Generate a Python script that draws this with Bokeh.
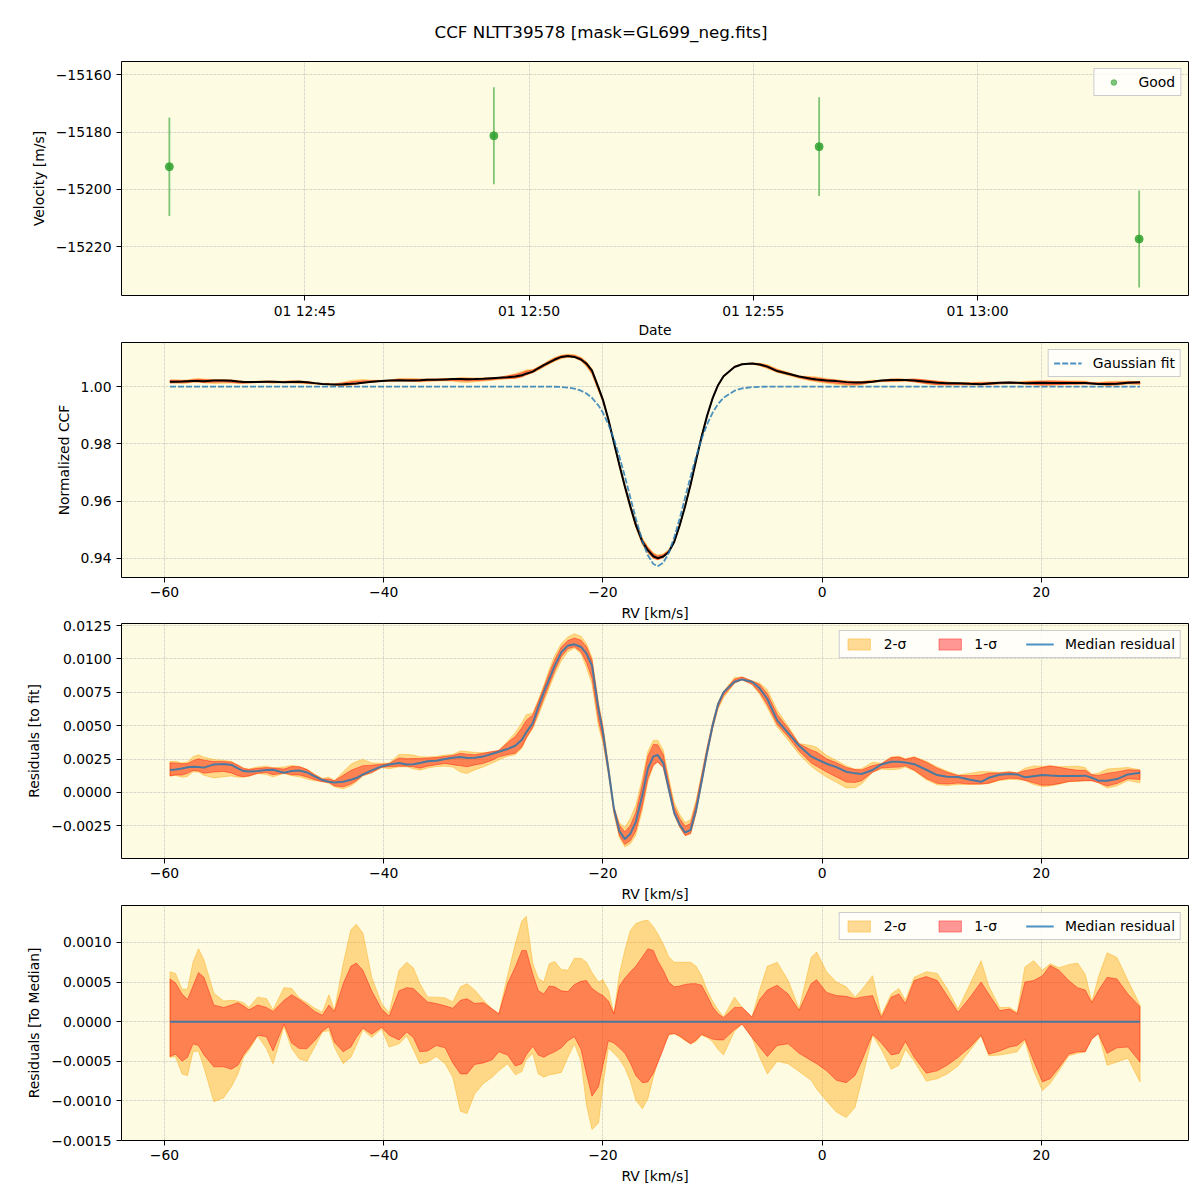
import numpy as np
from datetime import datetime
from bokeh.plotting import figure
from bokeh.layouts import column
from bokeh.models import FixedTicker, CustomJSTickFormatter, Legend, LegendItem, Range1d
from bokeh.embed import file_html
from bokeh.resources import INLINE

FONT = "DejaVu Sans"
BG = "#fdfbe1"
FS = "13.9px"

# ---------------- Panel 1 data ----------------
obs_time = [datetime(2023, 6, 1, 12, 41, 59), datetime(2023, 6, 1, 12, 49, 13),
            datetime(2023, 6, 1, 12, 56, 28), datetime(2023, 6, 1, 13, 3, 36)]
velocity = [-15192.1, -15181.3, -15185.1, -15217.3]
velocity_err = [17.2, 16.9, 17.2, 16.9]
date_ticks = [datetime(2023, 6, 1, 12, 45), datetime(2023, 6, 1, 12, 50),
              datetime(2023, 6, 1, 12, 55), datetime(2023, 6, 1, 13, 0)]
velocity_ticks = [-15220, -15200, -15180, -15160]

# ---------------- CCF / residual data ----------------
rv = [
    -59.5, -59.0, -58.4, -57.9, -57.4, -56.9, -56.4, -55.5, -54.6, -53.9,
    -53.3, -52.8, -52.3, -51.5, -50.7, -50.1, -49.1, -48.4, -47.7, -47.0,
    -46.3, -45.6, -45.0, -44.5, -43.7, -43.0, -42.5, -41.9, -41.1, -40.2,
    -39.5, -38.6, -37.9, -37.3, -36.7, -36.0, -35.2, -34.4, -33.7, -33.0,
    -32.4, -31.7, -30.9, -30.1, -29.5, -28.7, -28.0, -27.4, -27.0, -26.4,
    -25.9, -25.4, -24.9, -24.4, -23.8, -23.2, -22.6, -22.0, -21.5, -21.0,
    -20.4, -20.0, -19.5, -19.0, -18.5, -18.0, -17.5, -17.0, -16.4, -15.9,
    -15.4, -15.0, -14.5, -14.0, -13.5, -13.0, -12.5, -12.0, -11.5, -11.0,
    -10.5, -10.0, -9.5, -9.0, -8.0, -7.3, -6.4, -5.7, -5.0, -4.1,
    -3.1, -2.1, -1.0, -0.5, 0.4, 1.3, 2.2, 3.0, 3.6, 4.6,
    5.4, 6.3, 7.0, 7.6, 8.4, 9.5, 10.5, 11.4, 12.4, 13.5,
    14.5, 15.2, 16.2, 17.1, 17.8, 18.5, 19.3, 20.1, 20.8, 21.6,
    22.5, 23.3, 24.0, 24.6, 25.2, 26.0, 26.9, 27.9, 29.0]

# median residual to the Gaussian fit
resid_med = [
    0.00168, 0.00172, 0.00180, 0.00188, 0.00193, 0.00190, 0.00186, 0.00210, 0.00214, 0.00206,
    0.00180, 0.00160, 0.00157, 0.00160, 0.00168, 0.00170, 0.00148, 0.00160, 0.00165, 0.00150,
    0.00120, 0.00093, 0.00080, 0.00075, 0.00080, 0.00095, 0.00108, 0.00135, 0.00165, 0.00195,
    0.00210, 0.00220, 0.00210, 0.00212, 0.00220, 0.00234, 0.00238, 0.00250, 0.00260, 0.00266,
    0.00258, 0.00260, 0.00270, 0.00290, 0.00305, 0.00325, 0.00350, 0.00394, 0.00450, 0.00520,
    0.00640, 0.00750, 0.00850, 0.00950, 0.01050, 0.01100, 0.01110, 0.01090, 0.01040, 0.00950,
    0.00620, 0.00450, 0.00170, -0.00120, -0.00290, -0.00350, -0.00310, -0.00220, -0.00020, 0.00180,
    0.00270, 0.00280, 0.00220, 0.00030, -0.00150, -0.00240, -0.00300, -0.00280, -0.00130, 0.00080,
    0.00300, 0.00500, 0.00660, 0.00750, 0.00830, 0.00847, 0.00830, 0.00780, 0.00700, 0.00540,
    0.00445, 0.00350, 0.00270, 0.00250, 0.00215, 0.00190, 0.00155, 0.00143, 0.00138, 0.00168,
    0.00210, 0.00230, 0.00230, 0.00225, 0.00212, 0.00170, 0.00130, 0.00118, 0.00115, 0.00095,
    0.00080, 0.00110, 0.00132, 0.00138, 0.00135, 0.00113, 0.00122, 0.00130, 0.00127, 0.00124,
    0.00123, 0.00123, 0.00126, 0.00110, 0.00088, 0.00088, 0.00100, 0.00135, 0.00148]

# deviations from the median (upper/lower 2-sigma and 1-sigma envelopes)
dev_hi2 = [
    0.00063, 0.00061, 0.00041, 0.00041, 0.00075, 0.00092, 0.00078, 0.00036, 0.00026, 0.00027,
    0.00026, 0.00024, 0.00018, 0.00031, 0.00029, 0.00015, 0.00043, 0.00042, 0.00030, 0.00024,
    0.00017, 0.00012, 0.00034, 0.00014, 0.00073, 0.00116, 0.00123, 0.00112, 0.00056, 0.00023,
    0.00011, 0.00065, 0.00075, 0.00068, 0.00048, 0.00031, 0.00031, 0.00030, 0.00025, 0.00044,
    0.00048, 0.00040, 0.00027, 0.00016, 0.00010, 0.00058, 0.00098, 0.00127, 0.00133, 0.00073,
    0.00055, 0.00050, 0.00073, 0.00076, 0.00066, 0.00065, 0.00080, 0.00080, 0.00075, 0.00062,
    0.00050, 0.00053, 0.00040, 0.00010, 0.00060, 0.00090, 0.00115, 0.00124, 0.00127, 0.00128,
    0.00120, 0.00111, 0.00098, 0.00082, 0.00075, 0.00075, 0.00075, 0.00075, 0.00070, 0.00058,
    0.00040, 0.00026, 0.00015, 0.00006, 0.00031, 0.00018, 0.00006, 0.00040, 0.00070, 0.00075,
    0.00052, 0.00016, 0.00081, 0.00088, 0.00063, 0.00050, 0.00044, 0.00031, 0.00040, 0.00058,
    0.00008, 0.00035, 0.00042, 0.00027, 0.00056, 0.00063, 0.00061, 0.00042, 0.00016, 0.00048,
    0.00077, 0.00045, 0.00018, 0.00018, 0.00012, 0.00069, 0.00077, 0.00065, 0.00073, 0.00068,
    0.00072, 0.00074, 0.00060, 0.00025, 0.00056, 0.00087, 0.00081, 0.00052, 0.00021]

dev_hi1 = [
    0.00054, 0.00049, 0.00035, 0.00028, 0.00045, 0.00062, 0.00056, 0.00021, 0.00018, 0.00021,
    0.00024, 0.00020, 0.00015, 0.00021, 0.00018, 0.00013, 0.00027, 0.00034, 0.00028, 0.00021,
    0.00013, 0.00008, 0.00021, 0.00013, 0.00048, 0.00070, 0.00074, 0.00065, 0.00039, 0.00016,
    0.00007, 0.00039, 0.00043, 0.00042, 0.00034, 0.00025, 0.00023, 0.00020, 0.00017, 0.00027,
    0.00029, 0.00023, 0.00024, 0.00016, 0.00010, 0.00048, 0.00069, 0.00090, 0.00090, 0.00060,
    0.00039, 0.00035, 0.00045, 0.00044, 0.00039, 0.00038, 0.00047, 0.00051, 0.00052, 0.00042,
    0.00036, 0.00033, 0.00026, 0.00010, 0.00045, 0.00055, 0.00063, 0.00070, 0.00082, 0.00092,
    0.00090, 0.00077, 0.00065, 0.00050, 0.00044, 0.00045, 0.00047, 0.00048, 0.00048, 0.00046,
    0.00033, 0.00019, 0.00010, 0.00005, 0.00018, 0.00018, 0.00006, 0.00028, 0.00040, 0.00046,
    0.00035, 0.00014, 0.00048, 0.00053, 0.00037, 0.00033, 0.00032, 0.00029, 0.00031, 0.00033,
    0.00005, 0.00031, 0.00035, 0.00023, 0.00052, 0.00057, 0.00052, 0.00033, 0.00012, 0.00031,
    0.00050, 0.00035, 0.00014, 0.00016, 0.00010, 0.00050, 0.00052, 0.00058, 0.00071, 0.00065,
    0.00052, 0.00043, 0.00040, 0.00024, 0.00039, 0.00056, 0.00054, 0.00035, 0.00019]

dev_lo1 = [
    -0.00044, -0.00041, -0.00050, -0.00045, -0.00028, -0.00030, -0.00042, -0.00057, -0.00057, -0.00060,
    -0.00055, -0.00042, -0.00033, -0.00017, -0.00019, -0.00037, -0.00003, -0.00027, -0.00034, -0.00034,
    -0.00024, -0.00012, -0.00006, -0.00026, -0.00038, -0.00032, -0.00020, -0.00008, -0.00016, -0.00007,
    -0.00017, -0.00023, -0.00013, -0.00020, -0.00038, -0.00037, -0.00030, -0.00033, -0.00052, -0.00066,
    -0.00066, -0.00054, -0.00052, -0.00048, -0.00038, -0.00042, -0.00056, -0.00053, -0.00042, -0.00031,
    -0.00042, -0.00045, -0.00041, -0.00038, -0.00033, -0.00024, -0.00019, -0.00035, -0.00066, -0.00094,
    -0.00082, -0.00055, -0.00024, -0.00027, -0.00033, -0.00040, -0.00052, -0.00068, -0.00077, -0.00076,
    -0.00065, -0.00052, -0.00035, -0.00016, -0.00015, -0.00018, -0.00023, -0.00028, -0.00023, -0.00016,
    -0.00019, -0.00022, -0.00023, -0.00023, -0.00010, -0.00003, -0.00020, -0.00032, -0.00044, -0.00030,
    -0.00028, -0.00040, -0.00049, -0.00053, -0.00062, -0.00074, -0.00077, -0.00068, -0.00050, -0.00016,
    -0.00027, -0.00042, -0.00040, -0.00025, -0.00045, -0.00065, -0.00062, -0.00055, -0.00045, -0.00032,
    -0.00017, -0.00041, -0.00037, -0.00032, -0.00030, -0.00022, -0.00050, -0.00076, -0.00072, -0.00058,
    -0.00041, -0.00038, -0.00038, -0.00022, -0.00015, -0.00040, -0.00033, -0.00032, -0.00051]

dev_lo2 = [
    -0.00045, -0.00044, -0.00066, -0.00068, -0.00038, -0.00037, -0.00058, -0.00101, -0.00096, -0.00082,
    -0.00066, -0.00045, -0.00036, -0.00018, -0.00034, -0.00053, -0.00006, -0.00034, -0.00047, -0.00050,
    -0.00032, -0.00013, -0.00011, -0.00032, -0.00053, -0.00045, -0.00030, -0.00010, -0.00020, -0.00009,
    -0.00032, -0.00028, -0.00018, -0.00035, -0.00053, -0.00051, -0.00044, -0.00053, -0.00070, -0.00113,
    -0.00116, -0.00091, -0.00078, -0.00070, -0.00062, -0.00053, -0.00067, -0.00063, -0.00048, -0.00040,
    -0.00066, -0.00070, -0.00067, -0.00066, -0.00064, -0.00045, -0.00028, -0.00050, -0.00105, -0.00136,
    -0.00128, -0.00080, -0.00033, -0.00040, -0.00047, -0.00058, -0.00075, -0.00099, -0.00110, -0.00097,
    -0.00070, -0.00051, -0.00032, -0.00017, -0.00015, -0.00019, -0.00024, -0.00028, -0.00025, -0.00017,
    -0.00020, -0.00025, -0.00035, -0.00042, -0.00012, -0.00003, -0.00020, -0.00045, -0.00066, -0.00050,
    -0.00053, -0.00063, -0.00074, -0.00085, -0.00100, -0.00114, -0.00121, -0.00108, -0.00075, -0.00017,
    -0.00035, -0.00060, -0.00055, -0.00035, -0.00050, -0.00075, -0.00072, -0.00066, -0.00056, -0.00036,
    -0.00018, -0.00043, -0.00042, -0.00040, -0.00038, -0.00024, -0.00062, -0.00087, -0.00078, -0.00062,
    -0.00043, -0.00040, -0.00038, -0.00022, -0.00015, -0.00055, -0.00051, -0.00046, -0.00076]

# Gaussian fit curve (dashed), read at the same RV grid
gauss_fit = ([1.0] * 50 + [
    0.99999, 0.99998, 0.99997, 0.99993, 0.99984, 0.99964, 0.99926, 0.99855, 0.99757, 0.99607,
    0.99335, 0.99085, 0.98677, 0.98169, 0.97555, 0.96865, 0.96125, 0.95392, 0.94608, 0.94109,
    0.93807, 0.93730, 0.93849, 0.94194, 0.94727, 0.95392, 0.96125, 0.96865, 0.97555, 0.98169,
    0.98677, 0.99085, 0.99388, 0.99607, 0.99855, 0.99934, 0.99979, 0.99992, 0.99997, 1.0]
    + [1.0] * 39)

rv_ticks = [-60, -40, -20, 0, 20]
ccf_ticks = [0.94, 0.96, 0.98, 1.00]
res_ticks = [-0.0025, 0.0, 0.0025, 0.0050, 0.0075, 0.0100, 0.0125]
med_ticks = [-0.0015, -0.0010, -0.0005, 0.0, 0.0005, 0.0010]

for arr in (resid_med, dev_hi2, dev_hi1, dev_lo1, dev_lo2, gauss_fit):
    assert len(arr) == len(rv), len(arr)

# ---------------- helpers ----------------
EPOCH = datetime(1970, 1, 1)


def ms(dt):
    return (dt - EPOCH).total_seconds() * 1000.0


def num_fmt(dec):
    return CustomJSTickFormatter(code="return tick.toFixed(%d).replace('-', '\\u2212');" % dec)


date_fmt = CustomJSTickFormatter(code="""
const d = new Date(tick);
const p = (n) => String(n).padStart(2, '0');
return p(d.getUTCDate()) + ' ' + p(d.getUTCHours()) + ':' + p(d.getUTCMinutes());
""")


def base_fig(x_range, y_range, frame_h, top, bottom, x_type="linear", overlap=0):
    kw = {}
    if overlap:
        kw["margin"] = (-overlap, 0, 0, 0)
    p = figure(x_range=x_range, y_range=y_range, x_axis_type=x_type,
               frame_width=1067, frame_height=frame_h,
               min_border_left=121, min_border_right=8,
               min_border_top=top, min_border_bottom=bottom,
               output_backend="svg", toolbar_location=None,
               background_fill_color=BG, border_fill_color="white", border_fill_alpha=0.0,
               outline_line_color="black", outline_line_width=1, **kw)
    for ax in (p.xaxis[0], p.yaxis[0]):
        ax.axis_line_color = None
        ax.major_tick_in = 0
        ax.major_tick_out = 5
        ax.major_tick_line_color = "black"
        ax.minor_tick_line_color = None
        ax.major_label_text_font = FONT
        ax.major_label_text_font_size = FS
        ax.major_label_text_color = "black"
        ax.axis_label_text_font = FONT
        ax.axis_label_text_font_size = FS
        ax.axis_label_text_font_style = "normal"
        ax.axis_label_text_color = "black"
    p.xaxis.major_label_standoff = 4
    p.xaxis.axis_label_standoff = 5
    p.yaxis.major_label_standoff = 5
    p.yaxis.axis_label_standoff = 6
    p.grid.grid_line_color = "#b0b0b0"
    p.grid.grid_line_alpha = 0.6
    p.grid.grid_line_dash = "3 1"
    p.grid.grid_line_width = 0.8
    return p


def add_legend(p, items, horizontal=False):
    lg = Legend(items=items, location="top_right",
                orientation="horizontal" if horizontal else "vertical",
                label_text_font=FONT, label_text_font_size=FS, label_text_color="black",
                background_fill_color="white", background_fill_alpha=0.8,
                border_line_color="#cccccc", border_line_width=1, border_line_alpha=1.0,
                margin=7, padding=5, spacing=29, glyph_width=28, glyph_height=14,
                label_standoff=11, label_height=14)
    p.add_layout(lg)


def band(p, x, lo, hi, color, alpha):
    xs = np.concatenate([x, x[::-1]]).tolist()
    ys = np.concatenate([hi, lo[::-1]]).tolist()
    return p.patch(xs, ys, fill_color=color, fill_alpha=alpha,
                   line_color=color, line_alpha=alpha, line_width=1)


ORANGE = "#ffa500"
RED = "#ff0000"
BLUE = "#1f77b4"

x = np.array(rv)
med = np.array(resid_med)
hi2 = np.array(dev_hi2)
hi1 = np.array(dev_hi1)
lo1 = np.array(dev_lo1)
lo2 = np.array(dev_lo2)
fit = np.array(gauss_fit)
ccf = fit + med

# ---------------- Panel 1 ----------------
t_ms = [ms(t) for t in obs_time]
p1 = base_fig(Range1d(ms(datetime(2023, 6, 1, 12, 40, 55)), ms(datetime(2023, 6, 1, 13, 4, 42))),
              Range1d(-15237.0, -15155.4), 234, 61, 46, "datetime")
p1.xaxis.ticker = FixedTicker(ticks=[ms(t) for t in date_ticks], minor_ticks=[])
p1.xaxis.formatter = date_fmt
p1.xaxis.major_label_standoff = 2
p1.xaxis.axis_label_standoff = 0
p1.yaxis.ticker = FixedTicker(ticks=velocity_ticks, minor_ticks=[])
p1.yaxis.formatter = num_fmt(0)
p1.xaxis.axis_label = "Date"
p1.yaxis.axis_label = "Velocity [m/s]"
v_lo = [v - e for v, e in zip(velocity, velocity_err)]
v_hi = [v + e for v, e in zip(velocity, velocity_err)]
p1.segment(x0=t_ms, y0=v_lo, x1=t_ms, y1=v_hi, line_color="#2ca02c", line_alpha=0.6, line_width=1.8)
# small-dot renderer used for the legend swatch (hidden under the main markers)
dot = p1.scatter(x=t_ms, y=velocity, size=5, fill_color="#2ca02c", fill_alpha=0.6,
                 line_color="#2ca02c", line_alpha=0.6)
p1.scatter(x=t_ms, y=velocity, size=8, fill_color="#2ca02c", fill_alpha=0.7,
           line_color="#2ca02c", line_alpha=0.8)
add_legend(p1, [LegendItem(label="Good", renderers=[dot])])
p1.title.text = "CCF NLTT39578 [mask=GL699_neg.fits]"
p1.title.text_font = FONT
p1.title.text_font_size = "16.7px"
p1.title.text_font_style = "normal"
p1.title.text_color = "black"
p1.title.align = "left"
p1.title.offset = 313
p1.title.vertical_align = "top"
p1.title.standoff = 36

RV_RANGE = (-63.925, 33.425)
TOP = 11

# ---------------- Panel 2 ----------------
p2 = base_fig(Range1d(*RV_RANGE), Range1d(0.93336, 1.01538), 235, TOP, 48, overlap=10)
p2.xaxis.ticker = FixedTicker(ticks=rv_ticks, minor_ticks=[])
p2.xaxis.formatter = num_fmt(0)
p2.yaxis.ticker = FixedTicker(ticks=ccf_ticks, minor_ticks=[])
p2.yaxis.formatter = num_fmt(2)
p2.xaxis.axis_label = "RV [km/s]"
p2.yaxis.axis_label = "Normalized CCF"
band(p2, x, ccf + lo2, ccf + hi2, ORANGE, 0.4)
band(p2, x, ccf + lo1, ccf + hi1, RED, 0.4)
p2.line(x, ccf, line_color="black", line_width=2)
fit_r = p2.line(x, fit, line_color=BLUE, line_alpha=0.8, line_width=1.8, line_dash="6 2")
add_legend(p2, [LegendItem(label="Gaussian fit", renderers=[fit_r])])

# ---------------- Panel 3 ----------------
p3 = base_fig(Range1d(*RV_RANGE), Range1d(-0.00495, 0.01266), 235, TOP, 48, overlap=13)
p3.xaxis.ticker = FixedTicker(ticks=rv_ticks, minor_ticks=[])
p3.xaxis.formatter = num_fmt(0)
p3.yaxis.ticker = FixedTicker(ticks=res_ticks, minor_ticks=[])
p3.yaxis.formatter = num_fmt(4)
p3.xaxis.axis_label = "RV [km/s]"
p3.yaxis.axis_label = "Residuals [to fit]"
b2 = band(p3, x, med + lo2, med + hi2, ORANGE, 0.4)
b1 = band(p3, x, med + lo1, med + hi1, RED, 0.4)
ml = p3.line(x, med, line_color=BLUE, line_alpha=0.8, line_width=2)
add_legend(p3, [LegendItem(label="2-σ", renderers=[b2]),
                LegendItem(label="1-σ", renderers=[b1]),
                LegendItem(label="Median residual", renderers=[ml])], horizontal=True)

# ---------------- Panel 4 ----------------
zero_line = [0.0 for _ in rv]
p4 = base_fig(Range1d(*RV_RANGE), Range1d(-0.0015, 0.001467), 235, TOP, 50, overlap=12)
p4.xaxis.ticker = FixedTicker(ticks=rv_ticks, minor_ticks=[])
p4.xaxis.formatter = num_fmt(0)
p4.yaxis.ticker = FixedTicker(ticks=med_ticks, minor_ticks=[])
p4.yaxis.formatter = num_fmt(4)
p4.xaxis.axis_label = "RV [km/s]"
p4.yaxis.axis_label = "Residuals [To Median]"
c2 = band(p4, x, lo2, hi2, ORANGE, 0.4)
c1 = band(p4, x, lo1, hi1, RED, 0.4)
zl = p4.line(x, zero_line, line_color=BLUE, line_alpha=0.8, line_width=2)
add_legend(p4, [LegendItem(label="2-σ", renderers=[c2]),
                LegendItem(label="1-σ", renderers=[c1]),
                LegendItem(label="Median residual", renderers=[zl])], horizontal=True)

layout = column(p1, p2, p3, p4)
html = file_html(layout, INLINE, title="CCF NLTT39578")
with open("out.html", "w", encoding="utf-8") as f:
    f.write(html)
